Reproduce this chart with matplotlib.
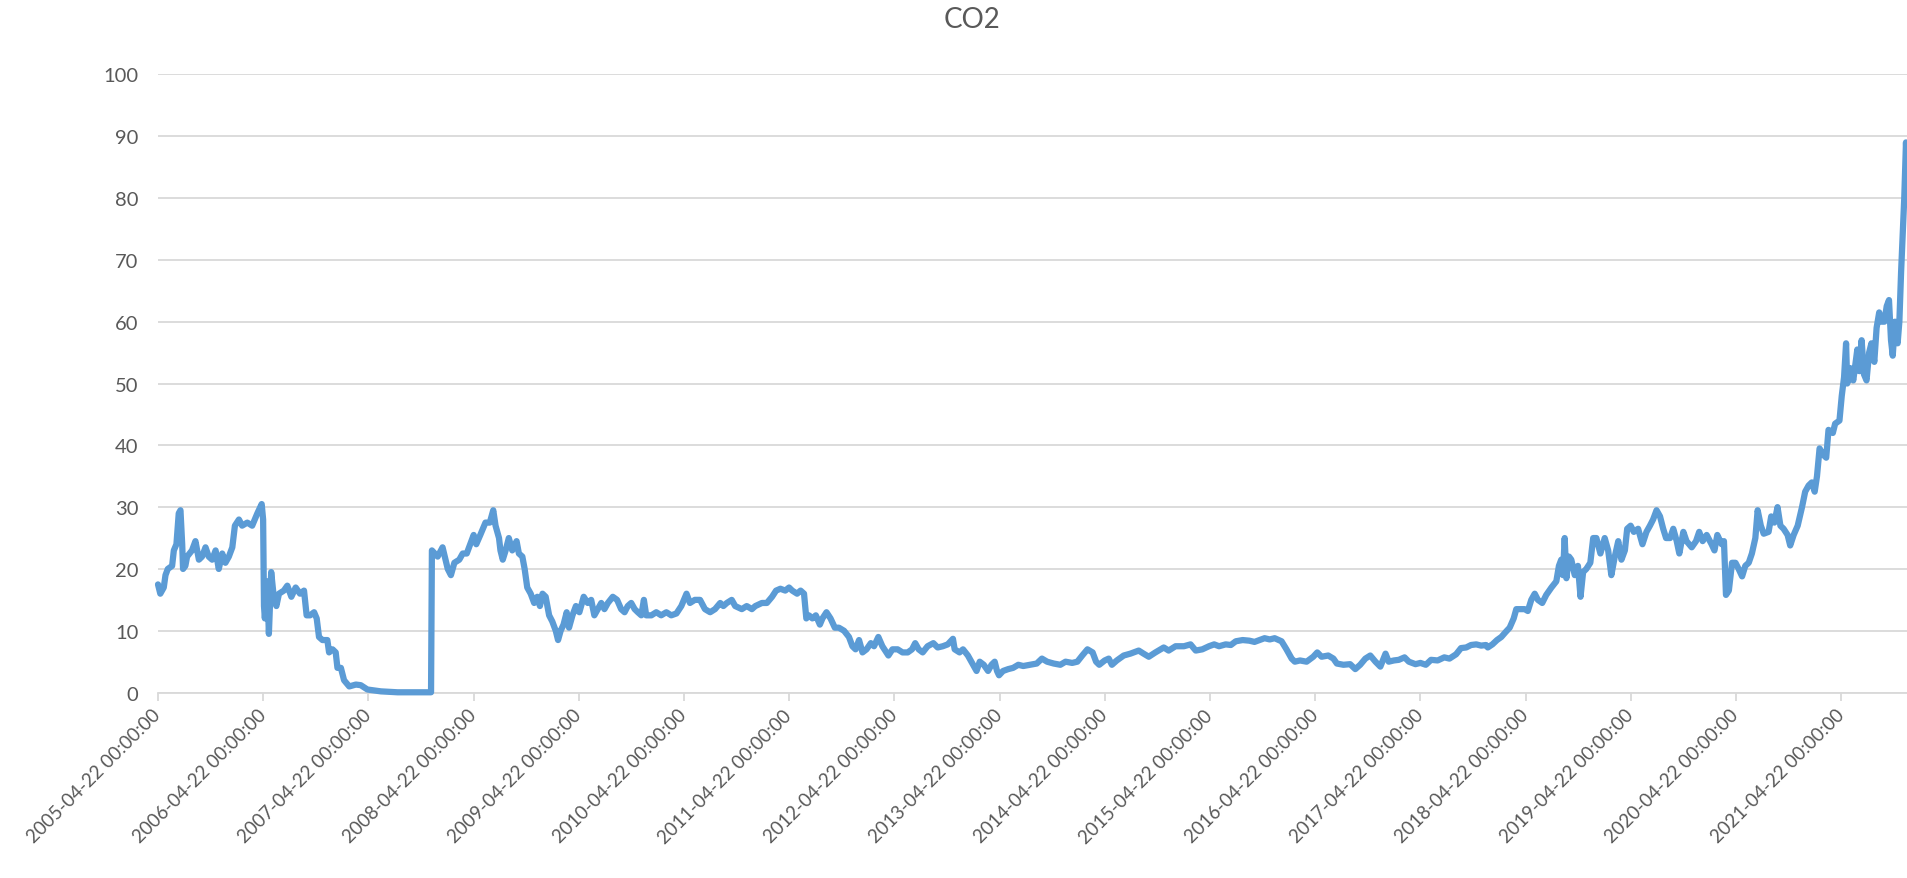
import matplotlib
matplotlib.use("Agg")
import matplotlib.pyplot as plt
import matplotlib.dates as mdates
import pandas as pd

# fechas y valores
fechas = [
    "2005-04-22", "2005-04-30", "2005-05-12", "2005-05-18", "2005-05-26", "2005-06-10",
    "2005-06-16", "2005-06-25", "2005-07-03", "2005-07-09", "2005-07-15", "2005-07-18",
    "2005-07-26", "2005-08-01", "2005-08-18", "2005-08-30", "2005-09-11", "2005-09-22",
    "2005-10-04", "2005-10-15", "2005-10-27", "2005-11-08", "2005-11-19", "2005-12-01",
    "2005-12-12", "2005-12-24", "2006-01-05", "2006-01-14", "2006-01-28", "2006-02-08",
    "2006-02-26", "2006-03-15", "2006-04-02", "2006-04-17", "2006-04-22", "2006-04-25",
    "2006-04-28", "2006-05-06", "2006-05-12", "2006-05-20", "2006-05-30", "2006-06-07",
    "2006-06-16", "2006-07-03", "2006-07-15", "2006-07-29", "2006-08-13", "2006-08-28",
    "2006-09-11", "2006-09-20", "2006-10-02", "2006-10-16", "2006-10-25", "2006-11-02",
    "2006-11-14", "2006-12-01", "2006-12-07", "2006-12-19", "2006-12-30", "2007-01-05",
    "2007-01-17", "2007-01-28", "2007-02-15", "2007-03-10", "2007-03-27", "2007-04-19",
    "2007-06-05", "2007-08-02", "2007-11-26", "2007-11-29", "2007-12-19", "2008-01-05",
    "2008-01-23", "2008-02-03", "2008-02-15", "2008-03-03", "2008-03-15", "2008-03-29",
    "2008-04-22", "2008-05-01", "2008-05-15", "2008-06-02", "2008-06-17", "2008-06-29",
    "2008-07-07", "2008-07-19", "2008-07-24", "2008-08-01", "2008-08-11", "2008-08-22",
    "2008-09-03", "2008-09-18", "2008-09-26", "2008-10-08", "2008-10-16", "2008-10-25",
    "2008-11-06", "2008-11-18", "2008-11-29", "2008-12-08", "2008-12-17", "2008-12-28",
    "2009-01-09", "2009-01-20", "2009-02-01", "2009-02-09", "2009-02-18", "2009-02-28",
    "2009-03-11", "2009-03-19", "2009-03-31", "2009-04-12", "2009-04-24", "2009-05-09",
    "2009-05-23", "2009-06-04", "2009-06-15", "2009-06-27", "2009-07-09", "2009-07-20",
    "2009-08-01", "2009-08-18", "2009-09-02", "2009-09-16", "2009-09-28", "2009-10-09",
    "2009-10-21", "2009-11-02", "2009-11-13", "2009-11-25", "2009-12-04", "2009-12-12",
    "2009-12-30", "2010-01-16", "2010-02-02", "2010-02-20", "2010-03-09", "2010-03-27",
    "2010-04-13", "2010-05-01", "2010-05-13", "2010-05-30", "2010-06-17", "2010-07-04",
    "2010-07-22", "2010-08-08", "2010-08-26", "2010-09-06", "2010-09-18", "2010-10-05",
    "2010-10-17", "2010-11-09", "2010-11-26", "2010-12-14", "2010-12-26", "2011-01-18",
    "2011-02-04", "2011-02-22", "2011-03-08", "2011-03-23", "2011-04-09",
    "2011-04-22", "2011-05-03", "2011-05-20", "2011-06-01", "2011-06-13", "2011-06-21",
    "2011-06-30", "2011-07-12", "2011-07-24", "2011-08-07", "2011-08-16", "2011-08-30",
    "2011-09-13", "2011-09-28", "2011-10-12", "2011-10-30", "2011-11-16", "2011-11-28",
    "2011-12-09", "2011-12-21", "2012-01-02", "2012-01-16", "2012-01-31", "2012-02-11",
    "2012-02-26", "2012-03-11", "2012-04-01", "2012-04-15", "2012-05-03", "2012-05-20",
    "2012-06-07", "2012-06-22", "2012-07-03", "2012-07-15", "2012-07-29", "2012-08-15",
    "2012-09-04", "2012-09-19", "2012-10-07", "2012-10-24", "2012-11-11", "2012-11-17",
    "2012-12-04", "2012-12-16", "2013-01-02", "2013-01-14", "2013-01-26", "2013-02-01",
    "2013-02-12", "2013-02-26", "2013-03-13", "2013-03-25", "2013-04-05", "2013-04-13",
    "2013-04-20", "2013-05-04", "2013-05-22", "2013-06-08", "2013-06-26", "2013-07-13",
    "2013-08-06", "2013-08-29", "2013-09-16", "2013-10-04", "2013-10-27", "2013-11-19",
    "2013-12-07", "2013-12-30", "2014-01-17", "2014-02-03", "2014-02-21", "2014-03-11",
    "2014-03-23", "2014-04-03",
    "2014-04-22", "2014-05-06", "2014-05-17", "2014-06-03", "2014-06-27", "2014-07-20",
    "2014-08-18", "2014-09-04", "2014-09-22", "2014-10-15", "2014-11-13", "2014-11-30",
    "2014-12-24", "2015-01-22", "2015-02-14", "2015-03-04", "2015-03-27", "2015-04-19",
    "2015-05-07", "2015-05-24", "2015-06-16", "2015-07-04", "2015-07-21", "2015-08-14",
    "2015-09-06", "2015-09-24", "2015-10-11", "2015-10-29", "2015-11-16", "2015-12-03",
    "2015-12-27", "2016-01-13", "2016-01-31", "2016-02-11", "2016-02-29", "2016-03-23",
    "2016-04-15", "2016-04-29", "2016-05-14", "2016-06-06", "2016-06-24", "2016-07-06",
    "2016-07-29", "2016-08-21", "2016-09-08", "2016-09-25", "2016-10-13", "2016-10-30",
    "2016-11-17", "2016-12-04", "2016-12-22", "2017-01-02", "2017-01-20", "2017-02-06",
    "2017-02-26", "2017-03-13", "2017-04-05",
    "2017-04-22", "2017-05-11", "2017-05-29", "2017-06-21", "2017-07-14", "2017-08-01",
    "2017-08-24", "2017-09-10", "2017-09-28", "2017-10-15", "2017-11-02", "2017-11-19",
    "2017-12-06", "2017-12-12", "2017-12-28", "2018-01-13", "2018-01-28", "2018-02-12",
    "2018-02-26", "2018-03-12", "2018-03-21", "2018-04-07", "2018-04-19", "2018-04-30",
    "2018-05-12", "2018-05-24", "2018-06-04", "2018-06-19", "2018-07-03", "2018-07-21",
    "2018-08-07", "2018-08-16", "2018-08-24", "2018-08-30", "2018-09-05", "2018-09-11",
    "2018-09-20", "2018-09-28", "2018-10-10", "2018-10-21", "2018-10-30", "2018-11-08",
    "2018-11-19", "2018-12-03", "2018-12-13", "2018-12-24", "2019-01-07", "2019-01-22",
    "2019-02-03", "2019-02-14", "2019-02-26", "2019-03-10", "2019-03-21", "2019-04-02",
    "2019-04-10", "2019-04-22", "2019-05-03", "2019-05-18", "2019-06-02", "2019-06-16",
    "2019-06-28", "2019-07-09", "2019-07-21", "2019-08-02", "2019-08-13", "2019-08-23",
    "2019-09-06", "2019-09-17", "2019-09-29", "2019-10-08", "2019-10-22", "2019-11-02",
    "2019-11-20", "2019-12-05", "2019-12-16", "2019-12-28", "2020-01-11", "2020-01-28",
    "2020-02-07", "2020-02-17", "2020-03-03", "2020-03-11",
    "2020-03-18", "2020-03-28", "2020-04-08", "2020-04-20", "2020-05-01", "2020-05-13",
    "2020-05-24", "2020-06-05", "2020-06-16", "2020-06-28", "2020-07-06", "2020-07-17",
    "2020-07-27", "2020-08-13", "2020-08-22", "2020-09-02", "2020-09-13", "2020-09-23",
    "2020-10-04", "2020-10-18", "2020-10-27", "2020-11-08", "2020-11-22", "2020-12-07",
    "2020-12-18", "2020-12-30", "2021-01-10", "2021-01-20", "2021-01-28", "2021-02-06",
    "2021-02-18", "2021-03-01", "2021-03-09", "2021-03-24", "2021-04-01", "2021-04-16",
    "2021-04-24", "2021-05-02", "2021-05-09", "2021-05-13", "2021-05-23", "2021-06-03",
    "2021-06-17", "2021-06-24", "2021-07-02", "2021-07-10", "2021-07-19", "2021-07-28",
    "2021-08-05", "2021-08-15", "2021-08-23", "2021-09-01", "2021-09-09", "2021-09-19",
    "2021-09-27", "2021-10-05", "2021-10-12", "2021-10-18", "2021-10-26", "2021-11-04",
    "2021-11-10", "2021-11-16", "2021-11-22", "2021-11-27", "2021-12-03", "2021-12-10",
]

precios = [
    17.5, 16.0, 17.0, 19.0, 20.0, 20.5,
    23.0, 24.0, 29.0, 29.5, 24.0, 20.0,
    20.5, 22.0, 23.0, 24.5, 21.5, 22.0,
    23.5, 22.0, 21.5, 23.0, 20.0, 22.5,
    21.0, 22.0, 23.5, 27.0, 28.0, 27.0,
    27.5, 27.0, 29.0, 30.5, 28.0, 14.0,
    12.0, 18.0, 9.5, 19.5, 15.0, 14.0,
    16.0, 16.5, 17.3, 15.5, 17.0, 16.0,
    16.5, 12.5, 12.5, 13.0, 12.0, 9.0,
    8.5, 8.5, 6.5, 7.0, 6.5, 4.0,
    4.0, 2.0, 1.0, 1.3, 1.2, 0.5,
    0.2, 0.05, 0.05, 23.0, 22.0, 23.5,
    20.0, 19.0, 21.0, 21.5, 22.5, 22.5,
    25.5, 24.0, 25.5, 27.5, 27.5, 29.5,
    27.0, 25.0, 23.0, 21.5, 23.0, 25.0,
    23.0, 24.5, 22.5, 22.0, 20.0, 17.0,
    16.0, 14.5, 15.5, 14.0, 16.0, 15.5,
    12.5, 11.5, 10.0, 8.5, 10.0, 11.0,
    13.0, 10.5, 12.5, 14.0, 13.0, 15.5,
    14.5, 15.0, 12.5, 13.5, 14.5, 13.5,
    14.5, 15.5, 15.0, 13.5, 13.0, 14.0,
    14.5, 13.5, 13.0, 12.5, 15.0, 12.5,
    12.5, 13.0, 12.5, 13.0, 12.5, 12.8,
    14.0, 16.0, 14.5, 15.0, 15.0, 13.5,
    13.0, 13.5, 14.5, 14.0, 14.5, 15.0,
    14.0, 13.5, 14.0, 13.5, 14.0, 14.5,
    14.5, 15.5, 16.5, 16.8, 16.5,
    17.0, 16.5, 16.0, 16.5, 16.0, 12.0,
    12.5, 12.0, 12.5, 11.0, 12.0, 13.0,
    12.0, 10.5, 10.5, 10.0, 9.0, 7.5,
    7.0, 8.5, 6.5, 7.0, 8.0, 7.5,
    9.0, 7.5, 6.0, 7.0, 7.0, 6.5,
    6.5, 7.0, 8.0, 7.0, 6.5, 7.5,
    8.0, 7.3, 7.5, 7.8, 8.7, 7.0,
    6.5, 7.0, 6.0, 5.0, 4.0, 3.5,
    5.0, 4.5, 3.5, 4.5, 5.0, 3.5,
    2.8, 3.5, 3.8, 4.0, 4.5, 4.3,
    4.5, 4.7, 5.5, 5.0, 4.7, 4.5,
    5.0, 4.8, 5.0, 6.0, 7.0, 6.5,
    5.0, 4.5,
    5.2, 5.5, 4.5, 5.2, 6.0, 6.3,
    6.8, 6.3, 5.8, 6.5, 7.3, 6.8,
    7.5, 7.5, 7.8, 6.8, 7.0, 7.5,
    7.8, 7.5, 7.8, 7.7, 8.3, 8.5,
    8.4, 8.2, 8.5, 8.8, 8.6, 8.8,
    8.3, 7.0, 5.5, 5.0, 5.2, 5.0,
    5.8, 6.5, 5.8, 6.0, 5.5, 4.7,
    4.5, 4.6, 3.8, 4.5, 5.5, 6.0,
    5.0, 4.2, 6.3, 5.0, 5.2, 5.3,
    5.7, 5.0, 4.6,
    4.8, 4.5, 5.3, 5.2, 5.7, 5.5,
    6.2, 7.2, 7.3, 7.7, 7.8, 7.6,
    7.7, 7.3, 7.8, 8.5, 9.0, 9.8,
    10.5, 12.0, 13.5, 13.5, 13.5, 13.2,
    15.0, 16.0, 15.0, 14.5, 15.8, 17.0,
    18.0, 20.5, 21.5, 19.0, 25.0, 18.5,
    22.0, 21.5, 19.0, 20.5, 15.5, 19.5,
    20.0, 21.0, 25.0, 25.0, 22.5, 25.0,
    23.0, 19.0, 22.0, 24.5, 21.5, 23.0,
    26.5, 27.0, 26.0, 26.5, 24.0, 26.0,
    27.0, 28.0, 29.5, 28.5, 26.5, 25.0,
    25.0, 26.5, 24.5, 22.5, 26.0, 24.5,
    23.5, 24.5, 26.0, 24.5, 25.5, 24.0,
    23.0, 25.5, 24.0, 24.5,
    15.8, 16.5, 21.0, 21.0, 20.0, 18.8,
    20.5, 21.0, 22.5, 25.0, 29.5, 27.0,
    25.7, 26.0, 28.5, 27.5, 30.0, 27.0,
    26.5, 25.5, 23.8, 25.5, 27.0, 30.0,
    32.5, 33.5, 34.0, 32.5, 35.0, 39.5,
    38.5, 38.0, 42.5, 42.0, 43.5, 44.0,
    48.0, 51.0, 56.5, 50.0, 52.5, 50.5,
    55.5, 52.0, 57.0, 51.5, 50.5, 55.0,
    56.5, 53.5, 59.0, 61.5, 60.0, 60.0,
    62.5, 63.5, 57.0, 54.5, 60.0, 56.5,
    60.0, 68.0, 74.5, 80.0, 89.0, 80.0,
]

titulo = "CO2"
inicio = "2005-04-22"
fin = "2021-12-10"

gris_texto = "#595959"
gris_linea = "#D9D9D9"
azul = "#5B9BD5"

plt.rcParams["font.family"] = ["Lato", "DejaVu Sans"]

x = pd.to_datetime(fechas)
marcas = pd.date_range(inicio, periods=17, freq=pd.DateOffset(years=1))

W, H = 1908, 879
fig = plt.figure(figsize=(W / 100, H / 100), dpi=100)
ax = fig.add_axes([158 / W, 1 - 693.6 / H, (W - 158) / W, (693.6 - 75.4) / H])

ax.plot(x, precios, color=azul, lw=4.5, solid_joinstyle="round",
        solid_capstyle="round", clip_on=False, zorder=3)

ax.set_xlim(pd.Timestamp(inicio), pd.Timestamp(fin))
ax.set_ylim(0, 100)
ax.set_yticks(range(0, 101, 10))
ax.grid(axis="y", color=gris_linea, lw=1.3)
ax.set_axisbelow(True)

for s in ["top", "right", "left"]:
    ax.spines[s].set_visible(False)
ax.spines["bottom"].set_color(gris_linea)
ax.spines["bottom"].set_linewidth(1.3)

ax.set_xticks(marcas)
ax.xaxis.set_major_formatter(mdates.DateFormatter("%Y-%m-%d %H:%M:%S"))
ax.tick_params(axis="x", colors=gris_linea, length=6, width=1.3, pad=8,
               labelcolor=gris_texto, labelsize=13.5)
ax.tick_params(axis="y", length=0, pad=14, labelcolor=gris_texto, labelsize=14.5)
for lab in ax.get_xticklabels():
    lab.set_rotation(45)
    lab.set_ha("right")
    lab.set_va("center")
    lab.set_rotation_mode("anchor")

fig.text(972 / W, 1 - 20 / H, titulo, ha="center", va="center",
         fontsize=20, color=gris_texto)

fig.savefig("out.png", dpi=100, facecolor="white")
